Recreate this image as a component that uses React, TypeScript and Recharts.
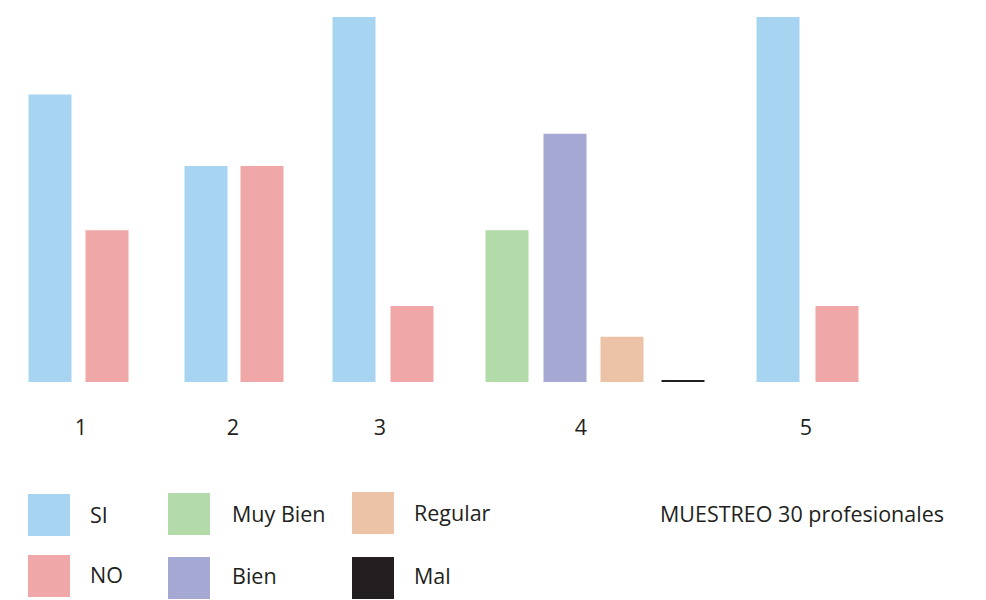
import React from 'react';
import { BarChart, Bar, XAxis, YAxis, Cell } from 'recharts';

const categories = ['1', '2', '3', '4', '5'];
const categoryTickPositions = [81, 233, 380, 581, 806];

const seriesNames = ['SI', 'NO', 'Muy Bien', 'Bien', 'Regular', 'Mal'];
const seriesColors = ['#a7d4f1', '#efa7a8', '#b2dba9', '#a6a8d4', '#ecc3a6', '#231f20'];

const barSeries = ['SI', 'NO', 'SI', 'NO', 'SI', 'NO', 'Muy Bien', 'Bien', 'Regular', 'Mal', 'SI', 'NO'];
const barPositions = [49.5, 106.5, 205.5, 261.5, 353.5, 411.5, 506.5, 564.5, 621.5, 682.5, 777.5, 836.5];
const barValues = [19.7, 10.4, 14.8, 14.8, 25, 5.2, 10.4, 17, 3.1, 0, 25, 5.2];

const note = 'MUESTREO 30 profesionales';

const data = barPositions.map((pos, i) => ({ pos, value: barValues[i], series: barSeries[i] }));
const colorOf = (name: string) => seriesColors[seriesNames.indexOf(name)];

const FONT = '"Open Sans", sans-serif';
const TEXT = '#231f20';
const FS = 21.5;

const CategoryTick = (props: any) => {
  const { x, y, payload } = props;
  const idx = categoryTickPositions.indexOf(payload.value);
  return (
    <text x={x} y={y + 45} textAnchor="middle" fill={TEXT} fontFamily={FONT} fontSize={FS}>
      {categories[idx]}
    </text>
  );
};

const legendLayout = [
  { name: 'SI', sx: 28, sy: 494, tx: 90, ty: 523 },
  { name: 'NO', sx: 28, sy: 555, tx: 90, ty: 583 },
  { name: 'Muy Bien', sx: 168, sy: 493, tx: 232, ty: 522 },
  { name: 'Bien', sx: 168, sy: 557, tx: 232, ty: 584 },
  { name: 'Regular', sx: 352, sy: 492, tx: 414, ty: 521 },
  { name: 'Mal', sx: 352, sy: 557, tx: 414, ty: 584 },
];

export default function App() {
  return (
    <div style={{ position: 'absolute', left: 0, top: 0, width: 986, height: 600, background: '#fff' }}>
      <BarChart width={986} height={600} data={data} margin={{ top: 17, right: 0, bottom: 158, left: 0 }}>
        <XAxis
          dataKey="pos"
          type="number"
          domain={[0, 986]}
          ticks={categoryTickPositions}
          axisLine={false}
          tickLine={false}
          height={60}
          interval={0}
          tick={<CategoryTick />}
        />
        <YAxis hide domain={[0, 25]} />
        <Bar dataKey="value" barSize={43} minPointSize={2} isAnimationActive={false}>
          {data.map((d, i) => (
            <Cell key={i} fill={colorOf(d.series)} />
          ))}
        </Bar>
      </BarChart>
      <svg width={986} height={600} style={{ position: 'absolute', left: 0, top: 0, pointerEvents: 'none' }}>
        {legendLayout.map((l) => (
          <g key={l.name}>
            <rect x={l.sx} y={l.sy} width={42} height={42} fill={colorOf(l.name)} />
            <text x={l.tx} y={l.ty} fill={TEXT} fontFamily={FONT} fontSize={FS}>{l.name}</text>
          </g>
        ))}
        <text x={660} y={522} fill={TEXT} fontFamily={FONT} fontSize={FS}>{note}</text>
      </svg>
    </div>
  );
}
